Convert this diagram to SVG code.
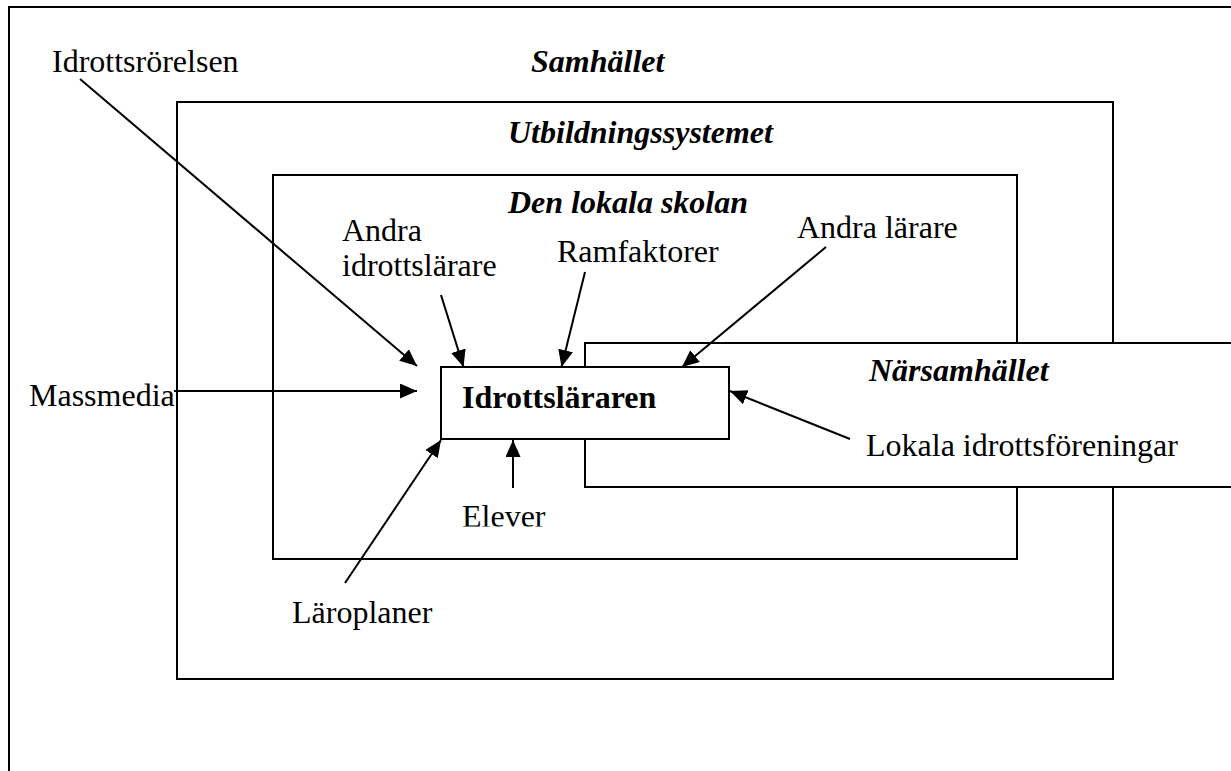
<svg xmlns="http://www.w3.org/2000/svg" width="1231" height="771" viewBox="0 0 1231 771">
<style>
.box{fill:none;stroke:#000;stroke-width:2}
.wbox{fill:#fff;stroke:#000;stroke-width:2}
.t{font-family:"Liberation Serif","Times New Roman",serif;font-size:32px;fill:#000}
.h{font-weight:bold;font-style:italic}
.b{font-weight:bold}
.c line{stroke:#000;stroke-width:2;marker-end:url(#ah)}
</style>
<defs>
<marker id="ah" markerUnits="userSpaceOnUse" markerWidth="19" markerHeight="16" refX="17" refY="7.5" orient="auto">
<path d="M0,0 L17,7.5 L0,15 z" fill="#000"/>
</marker>
<clipPath id="elclip"><rect x="440" y="495" width="120" height="31.5"/></clipPath>
</defs>
<rect width="1231" height="771" fill="#fff"/>
<g id="samhallet">
<rect class="box" x="9" y="7" width="1240" height="780"/>
<text class="t h" x="531" y="72">Samhället</text>
</g>
<g id="utbildningssystemet">
<rect class="box" x="177" y="102" width="936" height="577"/>
<text class="t h" x="508" y="143">Utbildningssystemet</text>
</g>
<g id="den-lokala-skolan">
<rect class="box" x="273" y="175" width="744" height="384"/>
<text class="t h" x="508" y="213">Den lokala skolan</text>
</g>
<g id="narsamhallet">
<rect class="wbox" x="585" y="343" width="680" height="144"/>
<text class="t h" x="869" y="381">Närsamhället</text>
</g>
<g id="idrottslararen">
<rect class="wbox" x="441" y="367" width="288" height="72"/>
<text class="t b" x="462" y="408">Idrottsläraren</text>
</g>
<g id="connectors" class="c">
<line x1="80" y1="79" x2="417" y2="366"/>
<line x1="441" y1="295" x2="463.5" y2="367"/>
<line x1="585" y1="272" x2="561.5" y2="367"/>
<line x1="826" y1="247" x2="682" y2="367"/>
<line x1="174" y1="391" x2="417" y2="391"/>
<line x1="850" y1="439" x2="730" y2="391"/>
<line x1="345" y1="583" x2="441" y2="440"/>
<line x1="513" y1="488" x2="513" y2="440"/>
</g>
<g id="idrottsrorelsen"><text class="t" x="52" y="72">Idrottsrörelsen</text></g>
<g id="andra-idrottslarare"><text class="t" x="342" y="241">Andra</text><text class="t" x="342" y="276">idrottslärare</text></g>
<g id="ramfaktorer"><text class="t" x="557" y="262">Ramfaktorer</text></g>
<g id="andra-larare"><text class="t" x="797" y="238">Andra lärare</text></g>
<g id="massmedia"><text class="t" x="29" y="406">Massmedia</text></g>
<g id="lokala"><text class="t" x="866" y="456">Lokala idrottsföreningar</text></g>
<g id="elever"><text class="t" x="462" y="527" clip-path="url(#elclip)">Elever</text></g>
<g id="laroplaner"><text class="t" x="292" y="623">Läroplaner</text></g>
</svg>
